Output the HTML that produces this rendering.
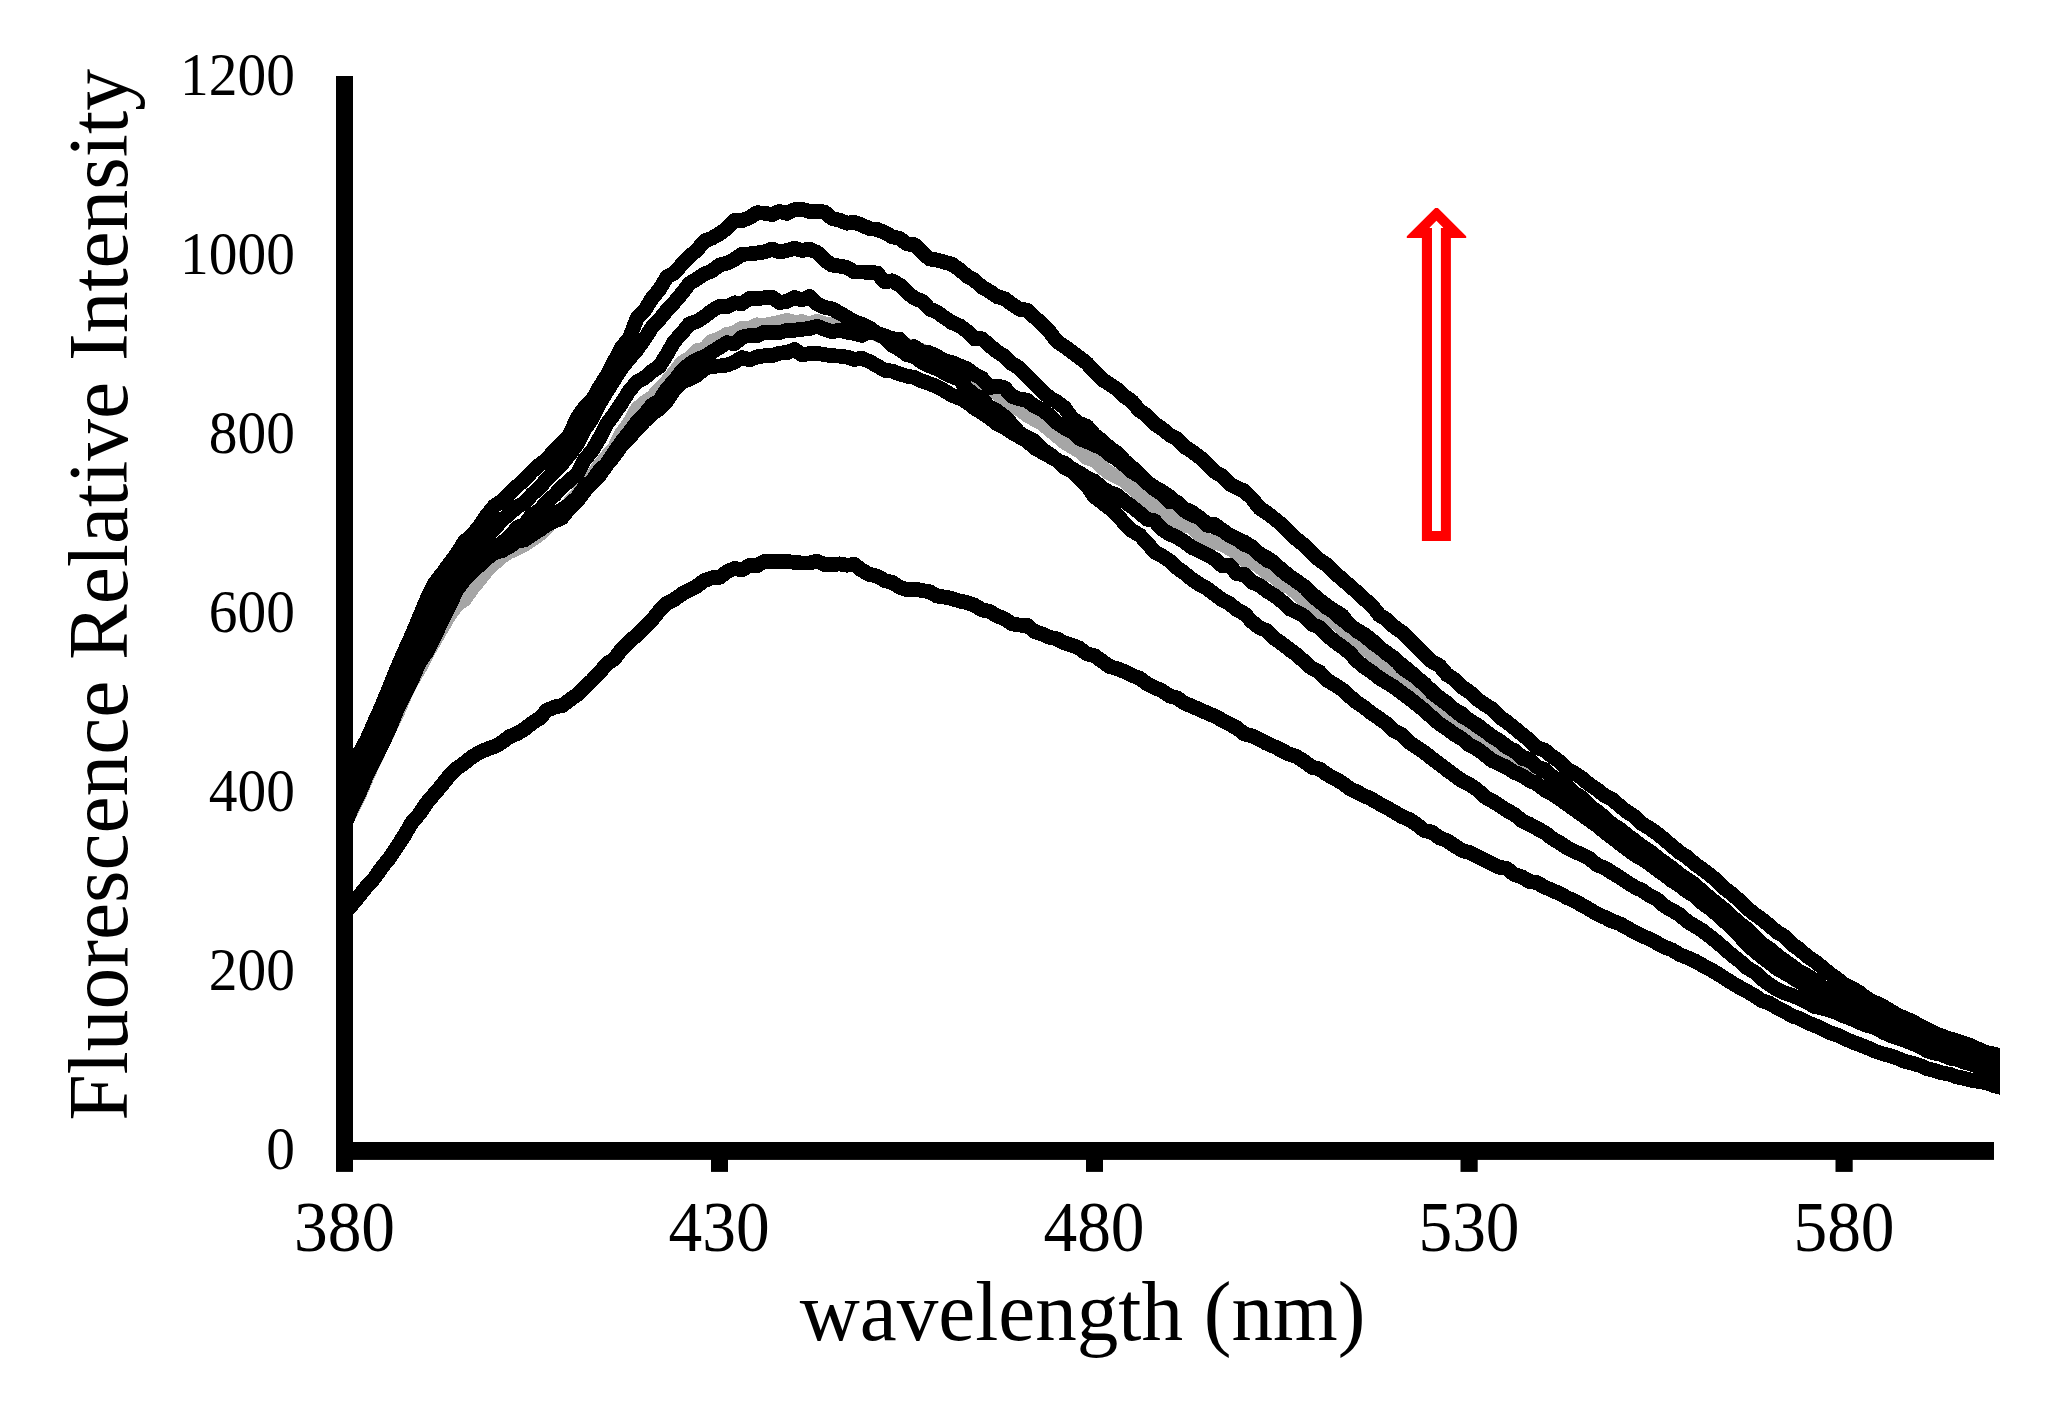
<!DOCTYPE html>
<html><head><meta charset="utf-8"><title>Fluorescence spectra</title>
<style>
html,body{margin:0;padding:0;background:#fff;}
svg{display:block;font-family:"Liberation Serif",serif;fill:#000;}
.cv path{shape-rendering:crispEdges;fill:none;stroke-width:14.8;stroke-linejoin:round;stroke-linecap:butt;}
</style></head><body>
<svg width="2052" height="1403" viewBox="0 0 2052 1403">
<rect width="2052" height="1403" fill="#fff"/>
<defs><clipPath id="cp"><rect x="336" y="60" width="1664" height="1090"/></clipPath></defs>
<g class="cv" clip-path="url(#cp)">
<path d="M344.5,824.0 L352.0,809.4 L359.5,794.1 L367.0,776.9 L374.5,760.1 L382.0,744.9 L389.5,728.9 L397.0,713.5 L404.5,695.9 L412.0,680.7 L419.5,668.0 L427.0,653.2 L434.5,640.5 L442.0,627.4 L449.5,614.7 L457.0,604.4 L464.5,599.3 L472.0,588.7 L479.5,579.7 L487.0,570.2 L494.5,563.0 L502.0,556.4 L509.5,551.6 L517.0,548.5 L524.5,544.5 L532.0,539.6 L539.5,534.2 L547.0,526.8 L554.5,517.9 L562.0,513.8 L569.5,502.9 L577.0,495.5 L584.5,484.5 L592.0,476.8 L599.5,465.8 L607.0,456.6 L614.5,448.1 L622.0,432.9 L629.5,422.9 L637.0,409.2 L644.5,402.4 L652.0,397.8 L659.5,389.4 L667.0,381.7 L674.5,372.6 L682.0,362.8 L689.5,358.2 L697.0,350.6 L704.5,349.3 L712.0,341.1 L719.5,338.8 L727.0,334.4 L734.5,333.0 L742.0,328.1 L749.5,328.3 L757.0,324.8 L764.5,325.6 L772.0,323.8 L779.5,322.4 L787.0,320.4 L794.5,322.3 L802.0,321.7 L809.5,323.7 L817.0,321.3 L824.5,323.7 L832.0,324.8 L839.5,325.7 L847.0,326.9 L854.5,328.6 L862.0,329.5 L869.5,331.0 L877.0,334.1 L884.5,337.7 L892.0,341.3 L899.5,342.8 L907.0,345.4 L914.5,347.8 L922.0,350.8 L929.5,353.5 L937.0,358.3 L944.5,363.8 L952.0,365.0 L959.5,368.8 L967.0,377.3 L974.5,379.8 L982.0,385.8 L989.5,390.6 L997.0,392.6 L1004.5,402.5 L1012.0,406.4 L1019.5,409.1 L1027.0,415.0 L1034.5,419.3 L1042.0,423.2 L1049.5,429.7 L1057.0,435.8 L1064.5,442.1 L1072.0,446.7 L1079.5,451.0 L1087.0,457.8 L1094.5,460.1 L1102.0,467.3 L1109.5,473.1 L1117.0,476.8 L1124.5,480.6 L1132.0,487.4 L1139.5,494.6 L1147.0,500.7 L1154.5,507.5 L1162.0,509.7 L1169.5,516.1 L1177.0,521.8 L1184.5,525.3 L1192.0,526.8 L1199.5,534.7 L1207.0,540.3 L1214.5,542.4 L1222.0,543.9 L1229.5,548.3 L1237.0,553.0 L1244.5,559.8 L1252.0,562.1 L1259.5,566.3 L1267.0,573.1 L1274.5,576.5 L1282.0,584.2 L1289.5,587.0 L1297.0,593.1 L1304.5,600.3 L1312.0,607.0 L1319.5,612.1 L1327.0,617.6 L1334.5,621.1 L1342.0,628.4 L1349.5,634.6 L1357.0,640.9 L1364.5,648.4 L1372.0,653.6 L1379.5,661.0 L1387.0,666.4 L1394.5,672.0 L1402.0,678.3 L1409.5,684.4 L1417.0,690.5 L1424.5,694.8 L1432.0,700.6 L1439.5,704.9 L1447.0,713.3 L1454.5,718.5 L1462.0,722.3 L1469.5,727.3 L1477.0,731.9 L1484.5,738.5 L1492.0,743.7 L1499.5,750.6 L1507.0,753.8 L1514.5,757.9 L1522.0,761.4 L1529.5,769.9 L1537.0,773.9 L1544.5,777.6 L1552.0,784.4 L1559.5,788.4 L1567.0,797.4 L1574.5,801.9 L1582.0,807.2 L1589.5,812.3 L1597.0,816.5 L1604.5,824.0 L1612.0,828.6 L1619.5,836.1 L1627.0,839.6 L1634.5,846.1 L1642.0,853.1 L1649.5,858.7 L1657.0,861.9 L1664.5,866.9 L1672.0,874.0 L1679.5,879.4 L1687.0,883.7 L1694.5,889.7 L1702.0,895.7 L1709.5,901.8 L1717.0,909.2 L1724.5,918.0 L1732.0,925.4 L1739.5,934.2 L1747.0,940.5 L1754.5,948.0 L1762.0,954.5 L1769.5,961.5 L1777.0,966.5 L1784.5,971.2 L1792.0,977.4 L1799.5,982.2 L1807.0,985.9 L1814.5,990.1 L1822.0,993.3 L1829.5,996.4 L1837.0,1000.4 L1844.5,1003.7 L1852.0,1006.9 L1859.5,1010.2 L1867.0,1013.8 L1874.5,1018.1 L1882.0,1021.6 L1889.5,1024.6 L1897.0,1028.9 L1904.5,1031.5 L1912.0,1034.8 L1919.5,1038.2 L1927.0,1040.2 L1934.5,1042.5 L1942.0,1046.7 L1949.5,1048.8 L1957.0,1052.4 L1964.5,1054.6 L1972.0,1057.5 L1979.5,1060.0 L1987.0,1061.3 L1994.5,1065.3 L2006.0,1069.2" stroke="#a6a6a6"/>
<path d="M344.5,825.3 L352.0,807.5 L359.5,792.4 L367.0,774.3 L374.5,759.9 L382.0,744.7 L389.5,728.3 L397.0,709.5 L404.5,694.3 L412.0,679.3 L419.5,662.0 L427.0,651.6 L434.5,636.1 L442.0,620.9 L449.5,605.4 L457.0,589.7 L464.5,579.5 L472.0,571.7 L479.5,565.2 L487.0,558.3 L494.5,552.7 L502.0,550.6 L509.5,546.5 L517.0,541.2 L524.5,539.9 L532.0,534.8 L539.5,530.0 L547.0,524.9 L554.5,521.2 L562.0,517.7 L569.5,508.2 L577.0,501.4 L584.5,491.2 L592.0,482.7 L599.5,475.4 L607.0,464.7 L614.5,455.6 L622.0,445.0 L629.5,437.2 L637.0,429.4 L644.5,421.0 L652.0,414.0 L659.5,408.7 L667.0,400.6 L674.5,389.5 L682.0,382.4 L689.5,378.8 L697.0,375.2 L704.5,368.5 L712.0,366.3 L719.5,366.0 L727.0,365.1 L734.5,362.1 L742.0,357.5 L749.5,359.9 L757.0,356.9 L764.5,355.7 L772.0,355.9 L779.5,353.1 L787.0,352.6 L794.5,349.6 L802.0,354.8 L809.5,353.6 L817.0,353.2 L824.5,354.7 L832.0,355.7 L839.5,356.1 L847.0,357.1 L854.5,359.4 L862.0,358.3 L869.5,361.6 L877.0,365.7 L884.5,370.2 L892.0,371.1 L899.5,373.8 L907.0,376.1 L914.5,377.4 L922.0,381.0 L929.5,383.7 L937.0,386.5 L944.5,390.8 L952.0,395.3 L959.5,398.1 L967.0,402.1 L974.5,408.1 L982.0,412.7 L989.5,417.7 L997.0,423.8 L1004.5,427.6 L1012.0,432.5 L1019.5,436.7 L1027.0,441.0 L1034.5,447.7 L1042.0,452.1 L1049.5,456.2 L1057.0,460.4 L1064.5,463.2 L1072.0,468.9 L1079.5,473.0 L1087.0,478.0 L1094.5,481.2 L1102.0,487.9 L1109.5,492.6 L1117.0,495.1 L1124.5,501.4 L1132.0,506.8 L1139.5,512.8 L1147.0,519.1 L1154.5,520.8 L1162.0,529.3 L1169.5,533.9 L1177.0,537.3 L1184.5,541.8 L1192.0,547.6 L1199.5,550.8 L1207.0,554.7 L1214.5,558.9 L1222.0,565.7 L1229.5,565.3 L1237.0,573.9 L1244.5,574.5 L1252.0,582.2 L1259.5,585.3 L1267.0,591.0 L1274.5,595.6 L1282.0,601.4 L1289.5,608.8 L1297.0,612.2 L1304.5,616.3 L1312.0,624.1 L1319.5,627.6 L1327.0,635.1 L1334.5,641.5 L1342.0,646.7 L1349.5,652.6 L1357.0,660.9 L1364.5,667.1 L1372.0,672.3 L1379.5,678.1 L1387.0,682.7 L1394.5,687.3 L1402.0,693.1 L1409.5,698.4 L1417.0,704.5 L1424.5,710.5 L1432.0,717.4 L1439.5,723.9 L1447.0,728.7 L1454.5,734.5 L1462.0,738.7 L1469.5,745.1 L1477.0,748.9 L1484.5,754.4 L1492.0,760.6 L1499.5,763.8 L1507.0,767.5 L1514.5,772.4 L1522.0,775.5 L1529.5,780.4 L1537.0,783.9 L1544.5,789.8 L1552.0,793.7 L1559.5,798.8 L1567.0,804.1 L1574.5,809.4 L1582.0,814.9 L1589.5,820.2 L1597.0,825.6 L1604.5,831.8 L1612.0,837.4 L1619.5,843.4 L1627.0,849.1 L1634.5,854.6 L1642.0,858.8 L1649.5,863.8 L1657.0,869.6 L1664.5,874.7 L1672.0,880.7 L1679.5,885.3 L1687.0,891.4 L1694.5,895.7 L1702.0,902.8 L1709.5,908.2 L1717.0,914.4 L1724.5,921.1 L1732.0,928.3 L1739.5,935.8 L1747.0,944.3 L1754.5,950.8 L1762.0,957.1 L1769.5,962.6 L1777.0,968.6 L1784.5,972.7 L1792.0,977.0 L1799.5,981.9 L1807.0,986.8 L1814.5,992.2 L1822.0,993.8 L1829.5,998.0 L1837.0,1001.7 L1844.5,1005.4 L1852.0,1008.9 L1859.5,1012.8 L1867.0,1015.9 L1874.5,1019.9 L1882.0,1022.3 L1889.5,1026.0 L1897.0,1029.1 L1904.5,1032.4 L1912.0,1035.9 L1919.5,1038.2 L1927.0,1041.6 L1934.5,1044.2 L1942.0,1047.4 L1949.5,1050.3 L1957.0,1052.6 L1964.5,1055.8 L1972.0,1057.6 L1979.5,1061.5 L1987.0,1062.8 L1994.5,1066.2 L2006.0,1070.2" stroke="#000"/>
<path d="M344.5,821.6 L352.0,806.0 L359.5,788.3 L367.0,772.2 L374.5,757.1 L382.0,741.8 L389.5,723.9 L397.0,706.1 L404.5,690.6 L412.0,675.8 L419.5,661.7 L427.0,646.0 L434.5,631.0 L442.0,616.3 L449.5,601.2 L457.0,586.4 L464.5,576.6 L472.0,568.3 L479.5,563.2 L487.0,555.5 L494.5,551.6 L502.0,544.5 L509.5,542.1 L517.0,537.0 L524.5,531.5 L532.0,527.1 L539.5,523.0 L547.0,516.5 L554.5,513.7 L562.0,509.8 L569.5,504.3 L577.0,497.8 L584.5,487.0 L592.0,480.9 L599.5,470.8 L607.0,463.6 L614.5,452.0 L622.0,441.4 L629.5,432.2 L637.0,422.1 L644.5,414.5 L652.0,405.1 L659.5,400.7 L667.0,388.6 L674.5,380.8 L682.0,370.5 L689.5,364.2 L697.0,359.5 L704.5,356.7 L712.0,352.0 L719.5,347.3 L727.0,342.7 L734.5,343.7 L742.0,337.2 L749.5,335.4 L757.0,335.7 L764.5,332.2 L772.0,332.8 L779.5,332.7 L787.0,330.2 L794.5,330.2 L802.0,329.3 L809.5,328.5 L817.0,326.3 L824.5,329.1 L832.0,331.8 L839.5,330.1 L847.0,332.1 L854.5,333.5 L862.0,335.4 L869.5,331.8 L877.0,333.5 L884.5,335.8 L892.0,338.7 L899.5,339.2 L907.0,347.4 L914.5,346.7 L922.0,352.1 L929.5,352.8 L937.0,356.3 L944.5,360.8 L952.0,362.6 L959.5,365.7 L967.0,368.8 L974.5,374.4 L982.0,378.3 L989.5,387.6 L997.0,386.1 L1004.5,387.7 L1012.0,396.4 L1019.5,399.0 L1027.0,400.2 L1034.5,406.3 L1042.0,409.4 L1049.5,415.5 L1057.0,422.7 L1064.5,427.9 L1072.0,431.5 L1079.5,438.6 L1087.0,441.6 L1094.5,445.0 L1102.0,447.9 L1109.5,454.5 L1117.0,459.2 L1124.5,465.1 L1132.0,471.9 L1139.5,475.9 L1147.0,482.8 L1154.5,489.2 L1162.0,494.2 L1169.5,502.0 L1177.0,502.1 L1184.5,509.0 L1192.0,512.1 L1199.5,517.9 L1207.0,525.2 L1214.5,524.3 L1222.0,530.1 L1229.5,535.5 L1237.0,539.1 L1244.5,544.7 L1252.0,546.5 L1259.5,554.6 L1267.0,557.7 L1274.5,563.0 L1282.0,570.8 L1289.5,576.6 L1297.0,581.2 L1304.5,587.1 L1312.0,593.8 L1319.5,600.1 L1327.0,605.9 L1334.5,610.8 L1342.0,615.4 L1349.5,625.3 L1357.0,630.1 L1364.5,634.7 L1372.0,640.4 L1379.5,647.4 L1387.0,653.7 L1394.5,658.0 L1402.0,667.6 L1409.5,672.7 L1417.0,678.0 L1424.5,684.8 L1432.0,690.9 L1439.5,697.8 L1447.0,703.0 L1454.5,710.1 L1462.0,716.2 L1469.5,720.2 L1477.0,725.7 L1484.5,730.6 L1492.0,736.4 L1499.5,740.9 L1507.0,746.5 L1514.5,751.6 L1522.0,756.6 L1529.5,760.0 L1537.0,766.9 L1544.5,770.8 L1552.0,776.2 L1559.5,781.3 L1567.0,785.8 L1574.5,793.5 L1582.0,797.7 L1589.5,806.1 L1597.0,811.3 L1604.5,818.5 L1612.0,823.8 L1619.5,829.8 L1627.0,836.1 L1634.5,840.7 L1642.0,847.5 L1649.5,851.8 L1657.0,857.6 L1664.5,862.4 L1672.0,868.8 L1679.5,874.4 L1687.0,879.2 L1694.5,884.4 L1702.0,891.2 L1709.5,897.6 L1717.0,903.6 L1724.5,909.7 L1732.0,916.6 L1739.5,923.6 L1747.0,928.9 L1754.5,936.7 L1762.0,944.4 L1769.5,948.8 L1777.0,955.1 L1784.5,961.7 L1792.0,966.3 L1799.5,971.5 L1807.0,975.8 L1814.5,979.9 L1822.0,986.8 L1829.5,990.1 L1837.0,994.4 L1844.5,999.4 L1852.0,1002.9 L1859.5,1006.4 L1867.0,1009.5 L1874.5,1013.7 L1882.0,1017.2 L1889.5,1020.3 L1897.0,1023.5 L1904.5,1026.7 L1912.0,1030.3 L1919.5,1033.2 L1927.0,1036.8 L1934.5,1040.1 L1942.0,1042.7 L1949.5,1045.4 L1957.0,1049.0 L1964.5,1051.3 L1972.0,1053.0 L1979.5,1056.1 L1987.0,1059.3 L1994.5,1061.6 L2006.0,1066.3" stroke="#000"/>
<path d="M344.5,817.6 L352.0,801.0 L359.5,787.4 L367.0,770.0 L374.5,753.7 L382.0,737.2 L389.5,719.3 L397.0,702.6 L404.5,687.9 L412.0,671.3 L419.5,657.3 L427.0,641.3 L434.5,624.9 L442.0,610.8 L449.5,596.3 L457.0,581.5 L464.5,573.3 L472.0,564.4 L479.5,559.4 L487.0,551.7 L494.5,547.5 L502.0,543.0 L509.5,536.9 L517.0,527.9 L524.5,524.4 L532.0,514.9 L539.5,510.5 L547.0,501.8 L554.5,495.1 L562.0,487.2 L569.5,480.4 L577.0,474.3 L584.5,459.7 L592.0,450.9 L599.5,438.2 L607.0,423.7 L614.5,413.6 L622.0,402.5 L629.5,390.5 L637.0,382.0 L644.5,377.8 L652.0,371.4 L659.5,366.4 L667.0,354.1 L674.5,341.2 L682.0,333.2 L689.5,323.8 L697.0,321.5 L704.5,316.6 L712.0,310.6 L719.5,306.4 L727.0,306.7 L734.5,302.8 L742.0,303.6 L749.5,298.6 L757.0,298.7 L764.5,297.8 L772.0,297.0 L779.5,302.5 L787.0,301.3 L794.5,297.6 L802.0,299.9 L809.5,296.5 L817.0,303.9 L824.5,307.2 L832.0,308.9 L839.5,312.8 L847.0,317.3 L854.5,321.6 L862.0,324.4 L869.5,327.9 L877.0,333.3 L884.5,337.8 L892.0,345.0 L899.5,349.3 L907.0,354.7 L914.5,356.5 L922.0,362.4 L929.5,365.8 L937.0,368.8 L944.5,372.8 L952.0,376.5 L959.5,379.5 L967.0,388.8 L974.5,394.9 L982.0,399.2 L989.5,407.1 L997.0,411.0 L1004.5,416.7 L1012.0,424.5 L1019.5,433.2 L1027.0,437.1 L1034.5,441.1 L1042.0,449.4 L1049.5,454.2 L1057.0,459.9 L1064.5,467.7 L1072.0,471.4 L1079.5,478.4 L1087.0,486.0 L1094.5,496.6 L1102.0,502.3 L1109.5,508.1 L1117.0,514.8 L1124.5,523.3 L1132.0,530.8 L1139.5,534.9 L1147.0,542.7 L1154.5,551.8 L1162.0,555.9 L1169.5,560.9 L1177.0,567.7 L1184.5,573.2 L1192.0,579.3 L1199.5,584.3 L1207.0,588.5 L1214.5,594.1 L1222.0,599.7 L1229.5,603.6 L1237.0,609.7 L1244.5,613.8 L1252.0,621.7 L1259.5,627.7 L1267.0,630.7 L1274.5,638.5 L1282.0,643.6 L1289.5,649.5 L1297.0,655.1 L1304.5,661.7 L1312.0,668.4 L1319.5,671.9 L1327.0,680.2 L1334.5,684.6 L1342.0,689.4 L1349.5,696.2 L1357.0,702.6 L1364.5,707.6 L1372.0,713.6 L1379.5,718.6 L1387.0,724.0 L1394.5,731.2 L1402.0,734.9 L1409.5,742.4 L1417.0,747.5 L1424.5,752.6 L1432.0,758.4 L1439.5,764.0 L1447.0,769.9 L1454.5,775.4 L1462.0,780.8 L1469.5,784.5 L1477.0,789.5 L1484.5,796.7 L1492.0,800.7 L1499.5,805.5 L1507.0,810.5 L1514.5,814.3 L1522.0,821.0 L1529.5,824.2 L1537.0,828.5 L1544.5,832.3 L1552.0,838.4 L1559.5,842.7 L1567.0,847.7 L1574.5,851.6 L1582.0,854.6 L1589.5,858.6 L1597.0,865.0 L1604.5,867.8 L1612.0,872.6 L1619.5,877.1 L1627.0,882.2 L1634.5,886.9 L1642.0,890.4 L1649.5,895.5 L1657.0,899.5 L1664.5,906.0 L1672.0,910.4 L1679.5,914.4 L1687.0,921.3 L1694.5,925.8 L1702.0,930.3 L1709.5,936.2 L1717.0,942.0 L1724.5,948.7 L1732.0,955.1 L1739.5,961.0 L1747.0,967.8 L1754.5,972.0 L1762.0,979.0 L1769.5,984.6 L1777.0,989.3 L1784.5,993.0 L1792.0,995.4 L1799.5,998.3 L1807.0,1002.1 L1814.5,1006.5 L1822.0,1008.1 L1829.5,1010.2 L1837.0,1012.5 L1844.5,1016.3 L1852.0,1018.9 L1859.5,1022.5 L1867.0,1025.4 L1874.5,1027.2 L1882.0,1031.5 L1889.5,1035.2 L1897.0,1037.6 L1904.5,1040.3 L1912.0,1043.3 L1919.5,1046.2 L1927.0,1050.8 L1934.5,1053.1 L1942.0,1054.6 L1949.5,1058.1 L1957.0,1059.4 L1964.5,1062.1 L1972.0,1064.4 L1979.5,1067.1 L1987.0,1069.9 L1994.5,1073.0 L2006.0,1075.8" stroke="#000"/>
<path d="M344.5,802.0 L352.0,783.2 L359.5,768.9 L367.0,753.3 L374.5,737.0 L382.0,720.2 L389.5,702.5 L397.0,685.6 L404.5,669.4 L412.0,653.8 L419.5,637.2 L427.0,622.6 L434.5,607.0 L442.0,593.0 L449.5,580.0 L457.0,567.8 L464.5,557.2 L472.0,550.2 L479.5,542.3 L487.0,535.6 L494.5,528.7 L502.0,519.9 L509.5,513.9 L517.0,506.8 L524.5,502.7 L532.0,494.4 L539.5,487.6 L547.0,479.0 L554.5,471.2 L562.0,464.0 L569.5,454.7 L577.0,444.2 L584.5,429.5 L592.0,418.8 L599.5,403.7 L607.0,391.2 L614.5,379.2 L622.0,367.4 L629.5,358.4 L637.0,349.7 L644.5,339.1 L652.0,327.4 L659.5,319.4 L667.0,310.1 L674.5,302.1 L682.0,293.3 L689.5,283.5 L697.0,278.9 L704.5,273.9 L712.0,270.9 L719.5,265.0 L727.0,263.2 L734.5,259.4 L742.0,254.3 L749.5,253.9 L757.0,253.0 L764.5,252.0 L772.0,249.0 L779.5,252.1 L787.0,250.5 L794.5,248.1 L802.0,250.5 L809.5,249.0 L817.0,252.4 L824.5,259.9 L832.0,265.1 L839.5,266.0 L847.0,267.5 L854.5,272.1 L862.0,272.0 L869.5,272.4 L877.0,273.0 L884.5,281.6 L892.0,280.8 L899.5,284.9 L907.0,292.4 L914.5,298.1 L922.0,301.3 L929.5,309.0 L937.0,312.1 L944.5,317.5 L952.0,322.6 L959.5,325.7 L967.0,331.3 L974.5,338.9 L982.0,338.8 L989.5,345.4 L997.0,351.6 L1004.5,356.3 L1012.0,363.7 L1019.5,368.0 L1027.0,376.4 L1034.5,383.5 L1042.0,391.4 L1049.5,397.6 L1057.0,401.9 L1064.5,407.6 L1072.0,418.2 L1079.5,423.5 L1087.0,426.4 L1094.5,435.1 L1102.0,440.9 L1109.5,447.7 L1117.0,452.8 L1124.5,461.0 L1132.0,467.5 L1139.5,474.3 L1147.0,482.3 L1154.5,487.4 L1162.0,491.5 L1169.5,496.6 L1177.0,503.5 L1184.5,510.6 L1192.0,515.0 L1199.5,517.5 L1207.0,523.8 L1214.5,527.1 L1222.0,529.9 L1229.5,535.3 L1237.0,538.9 L1244.5,542.2 L1252.0,547.8 L1259.5,553.6 L1267.0,560.3 L1274.5,563.1 L1282.0,570.3 L1289.5,576.0 L1297.0,581.9 L1304.5,586.6 L1312.0,595.4 L1319.5,601.5 L1327.0,607.7 L1334.5,612.4 L1342.0,619.5 L1349.5,624.4 L1357.0,631.0 L1364.5,635.6 L1372.0,642.2 L1379.5,647.7 L1387.0,653.0 L1394.5,659.7 L1402.0,665.0 L1409.5,671.1 L1417.0,677.9 L1424.5,683.8 L1432.0,692.7 L1439.5,698.5 L1447.0,703.9 L1454.5,709.6 L1462.0,713.9 L1469.5,720.7 L1477.0,724.7 L1484.5,730.8 L1492.0,736.1 L1499.5,741.2 L1507.0,747.3 L1514.5,750.6 L1522.0,758.3 L1529.5,760.5 L1537.0,766.7 L1544.5,769.6 L1552.0,777.1 L1559.5,780.7 L1567.0,787.6 L1574.5,793.2 L1582.0,799.9 L1589.5,805.7 L1597.0,811.5 L1604.5,817.1 L1612.0,824.8 L1619.5,828.8 L1627.0,835.0 L1634.5,840.4 L1642.0,846.4 L1649.5,851.1 L1657.0,857.1 L1664.5,863.2 L1672.0,867.9 L1679.5,874.3 L1687.0,879.1 L1694.5,886.3 L1702.0,891.1 L1709.5,898.5 L1717.0,904.0 L1724.5,910.2 L1732.0,917.7 L1739.5,924.6 L1747.0,931.5 L1754.5,938.0 L1762.0,944.1 L1769.5,948.8 L1777.0,955.8 L1784.5,960.6 L1792.0,966.1 L1799.5,971.7 L1807.0,975.5 L1814.5,981.5 L1822.0,986.8 L1829.5,990.2 L1837.0,994.0 L1844.5,999.2 L1852.0,1002.6 L1859.5,1006.9 L1867.0,1010.8 L1874.5,1012.9 L1882.0,1017.4 L1889.5,1019.8 L1897.0,1023.6 L1904.5,1027.5 L1912.0,1029.7 L1919.5,1033.1 L1927.0,1036.3 L1934.5,1039.8 L1942.0,1042.7 L1949.5,1045.6 L1957.0,1048.0 L1964.5,1050.6 L1972.0,1053.9 L1979.5,1056.0 L1987.0,1058.8 L1994.5,1062.3 L2006.0,1066.3" stroke="#000"/>
<path d="M344.5,782.4 L352.0,765.0 L359.5,752.9 L367.0,739.4 L374.5,722.1 L382.0,705.5 L389.5,687.1 L397.0,668.6 L404.5,651.3 L412.0,634.8 L419.5,616.8 L427.0,598.9 L434.5,583.4 L442.0,574.0 L449.5,563.6 L457.0,553.6 L464.5,541.5 L472.0,535.4 L479.5,526.2 L487.0,515.1 L494.5,505.8 L502.0,501.2 L509.5,493.3 L517.0,486.4 L524.5,479.3 L532.0,471.5 L539.5,464.9 L547.0,459.4 L554.5,450.0 L562.0,443.0 L569.5,435.0 L577.0,418.3 L584.5,407.5 L592.0,400.4 L599.5,387.1 L607.0,375.1 L614.5,361.0 L622.0,347.0 L629.5,337.9 L637.0,318.4 L644.5,310.7 L652.0,298.4 L659.5,289.5 L667.0,276.7 L674.5,272.9 L682.0,264.2 L689.5,256.4 L697.0,250.1 L704.5,241.0 L712.0,238.1 L719.5,233.7 L727.0,228.4 L734.5,220.5 L742.0,220.6 L749.5,217.6 L757.0,212.7 L764.5,213.2 L772.0,214.6 L779.5,211.4 L787.0,213.4 L794.5,209.7 L802.0,209.2 L809.5,211.5 L817.0,211.1 L824.5,212.1 L832.0,218.4 L839.5,220.2 L847.0,223.2 L854.5,222.4 L862.0,225.1 L869.5,228.7 L877.0,229.3 L884.5,232.5 L892.0,236.6 L899.5,238.5 L907.0,244.0 L914.5,244.8 L922.0,252.0 L929.5,258.9 L937.0,260.0 L944.5,262.2 L952.0,264.3 L959.5,269.6 L967.0,276.0 L974.5,280.2 L982.0,287.3 L989.5,291.3 L997.0,296.6 L1004.5,298.7 L1012.0,304.2 L1019.5,309.2 L1027.0,310.0 L1034.5,317.1 L1042.0,324.1 L1049.5,331.8 L1057.0,341.5 L1064.5,346.4 L1072.0,352.0 L1079.5,357.5 L1087.0,363.4 L1094.5,371.6 L1102.0,379.3 L1109.5,384.2 L1117.0,389.1 L1124.5,396.3 L1132.0,401.4 L1139.5,410.6 L1147.0,415.5 L1154.5,423.7 L1162.0,428.7 L1169.5,434.8 L1177.0,438.6 L1184.5,446.8 L1192.0,451.4 L1199.5,457.0 L1207.0,463.8 L1214.5,471.6 L1222.0,475.9 L1229.5,483.8 L1237.0,487.9 L1244.5,491.1 L1252.0,498.5 L1259.5,508.1 L1267.0,512.9 L1274.5,518.8 L1282.0,524.8 L1289.5,532.5 L1297.0,539.6 L1304.5,545.4 L1312.0,552.7 L1319.5,560.0 L1327.0,565.0 L1334.5,572.8 L1342.0,578.9 L1349.5,585.7 L1357.0,592.1 L1364.5,599.2 L1372.0,605.6 L1379.5,615.3 L1387.0,619.7 L1394.5,627.0 L1402.0,632.3 L1409.5,639.9 L1417.0,646.9 L1424.5,654.8 L1432.0,661.6 L1439.5,665.7 L1447.0,674.7 L1454.5,679.4 L1462.0,687.0 L1469.5,692.0 L1477.0,699.0 L1484.5,704.3 L1492.0,709.0 L1499.5,717.0 L1507.0,722.0 L1514.5,728.1 L1522.0,734.3 L1529.5,740.3 L1537.0,747.7 L1544.5,750.1 L1552.0,756.3 L1559.5,761.5 L1567.0,769.1 L1574.5,773.1 L1582.0,778.2 L1589.5,784.6 L1597.0,789.6 L1604.5,795.4 L1612.0,799.0 L1619.5,805.8 L1627.0,811.8 L1634.5,816.4 L1642.0,823.7 L1649.5,828.2 L1657.0,833.4 L1664.5,839.5 L1672.0,846.0 L1679.5,852.3 L1687.0,856.9 L1694.5,863.7 L1702.0,869.0 L1709.5,874.6 L1717.0,880.8 L1724.5,888.4 L1732.0,893.9 L1739.5,900.7 L1747.0,908.2 L1754.5,914.1 L1762.0,919.4 L1769.5,925.6 L1777.0,932.0 L1784.5,936.4 L1792.0,944.3 L1799.5,949.3 L1807.0,956.2 L1814.5,961.1 L1822.0,967.1 L1829.5,973.5 L1837.0,978.7 L1844.5,984.6 L1852.0,988.1 L1859.5,992.7 L1867.0,998.5 L1874.5,1002.4 L1882.0,1005.6 L1889.5,1010.2 L1897.0,1014.7 L1904.5,1018.1 L1912.0,1021.2 L1919.5,1025.7 L1927.0,1029.3 L1934.5,1033.1 L1942.0,1036.1 L1949.5,1038.8 L1957.0,1040.8 L1964.5,1043.4 L1972.0,1046.2 L1979.5,1049.7 L1987.0,1052.7 L1994.5,1054.1 L2006.0,1059.4" stroke="#000"/>
<path d="M344.5,912.2 L352.0,904.6 L359.5,895.6 L367.0,886.2 L374.5,878.0 L382.0,867.2 L389.5,858.0 L397.0,846.9 L404.5,835.2 L412.0,822.3 L419.5,813.8 L427.0,802.6 L434.5,793.8 L442.0,785.0 L449.5,775.4 L457.0,768.3 L464.5,763.0 L472.0,756.9 L479.5,752.5 L487.0,749.1 L494.5,746.6 L502.0,742.4 L509.5,736.6 L517.0,733.6 L524.5,729.1 L532.0,723.1 L539.5,718.4 L547.0,710.3 L554.5,707.0 L562.0,705.7 L569.5,700.1 L577.0,694.8 L584.5,687.7 L592.0,680.5 L599.5,672.7 L607.0,663.6 L614.5,658.9 L622.0,648.6 L629.5,641.4 L637.0,634.9 L644.5,627.9 L652.0,620.0 L659.5,610.7 L667.0,603.3 L674.5,599.5 L682.0,593.9 L689.5,590.2 L697.0,586.0 L704.5,580.5 L712.0,577.8 L719.5,577.4 L727.0,571.7 L734.5,568.4 L742.0,569.9 L749.5,565.4 L757.0,565.7 L764.5,561.4 L772.0,561.4 L779.5,561.9 L787.0,561.5 L794.5,562.3 L802.0,563.0 L809.5,563.1 L817.0,561.1 L824.5,564.6 L832.0,564.6 L839.5,563.9 L847.0,565.2 L854.5,564.6 L862.0,570.4 L869.5,574.4 L877.0,576.1 L884.5,580.4 L892.0,582.4 L899.5,587.1 L907.0,589.9 L914.5,589.0 L922.0,590.5 L929.5,591.7 L937.0,596.1 L944.5,597.0 L952.0,598.6 L959.5,601.0 L967.0,602.6 L974.5,605.2 L982.0,609.9 L989.5,611.5 L997.0,615.8 L1004.5,618.9 L1012.0,623.9 L1019.5,625.1 L1027.0,625.3 L1034.5,631.4 L1042.0,633.9 L1049.5,637.2 L1057.0,638.9 L1064.5,643.0 L1072.0,645.2 L1079.5,648.2 L1087.0,654.0 L1094.5,655.6 L1102.0,661.1 L1109.5,666.4 L1117.0,668.7 L1124.5,671.5 L1132.0,675.4 L1139.5,678.2 L1147.0,683.7 L1154.5,687.4 L1162.0,690.9 L1169.5,695.9 L1177.0,697.9 L1184.5,703.2 L1192.0,706.2 L1199.5,709.6 L1207.0,712.9 L1214.5,716.0 L1222.0,720.1 L1229.5,724.2 L1237.0,728.0 L1244.5,734.1 L1252.0,735.8 L1259.5,739.6 L1267.0,743.5 L1274.5,746.7 L1282.0,750.5 L1289.5,754.3 L1297.0,756.8 L1304.5,761.6 L1312.0,767.3 L1319.5,768.9 L1327.0,774.4 L1334.5,778.5 L1342.0,782.7 L1349.5,788.3 L1357.0,792.0 L1364.5,795.8 L1372.0,799.4 L1379.5,803.8 L1387.0,807.7 L1394.5,812.1 L1402.0,816.6 L1409.5,819.6 L1417.0,824.7 L1424.5,830.7 L1432.0,832.1 L1439.5,837.9 L1447.0,840.6 L1454.5,845.7 L1462.0,850.4 L1469.5,852.6 L1477.0,856.2 L1484.5,859.9 L1492.0,863.8 L1499.5,867.3 L1507.0,868.6 L1514.5,874.7 L1522.0,877.0 L1529.5,881.5 L1537.0,882.7 L1544.5,887.0 L1552.0,890.2 L1559.5,893.5 L1567.0,897.6 L1574.5,901.0 L1582.0,905.1 L1589.5,909.4 L1597.0,913.9 L1604.5,917.2 L1612.0,921.0 L1619.5,923.7 L1627.0,927.6 L1634.5,932.2 L1642.0,935.8 L1649.5,939.0 L1657.0,943.0 L1664.5,947.0 L1672.0,949.9 L1679.5,954.5 L1687.0,957.5 L1694.5,960.7 L1702.0,965.0 L1709.5,969.0 L1717.0,973.3 L1724.5,978.2 L1732.0,982.9 L1739.5,987.3 L1747.0,991.3 L1754.5,995.6 L1762.0,1000.8 L1769.5,1003.2 L1777.0,1007.8 L1784.5,1011.4 L1792.0,1015.9 L1799.5,1018.3 L1807.0,1022.4 L1814.5,1025.3 L1822.0,1028.7 L1829.5,1032.4 L1837.0,1035.0 L1844.5,1038.6 L1852.0,1041.8 L1859.5,1044.6 L1867.0,1047.5 L1874.5,1051.0 L1882.0,1053.5 L1889.5,1055.6 L1897.0,1058.1 L1904.5,1061.2 L1912.0,1063.2 L1919.5,1065.3 L1927.0,1068.6 L1934.5,1070.5 L1942.0,1072.9 L1949.5,1074.2 L1957.0,1077.0 L1964.5,1078.4 L1972.0,1080.4 L1979.5,1081.6 L1987.0,1082.9 L1994.5,1085.9 L2006.0,1088.4" stroke="#000"/>
</g>
<!-- axes -->
<rect x="336" y="76" width="17" height="1095.9" fill="#000"/>
<rect x="336" y="1142" width="1658" height="17.9" fill="#000"/>
<rect x="711" y="1150" width="17" height="21.9" fill="#000"/>
<rect x="1086" y="1150" width="17" height="21.9" fill="#000"/>
<rect x="1460.5" y="1150" width="17.2" height="21.9" fill="#000"/>
<rect x="1835.5" y="1150" width="17.2" height="21.9" fill="#000"/>
<!-- arrow -->
<polygon points="1435.2,207.9 1437.9,207.9 1466.2,236.2 1466.2,238.1 1450.9,238.1 1450.9,540.9 1421.9,540.9 1421.9,238.1 1406.8,238.1 1406.8,236.2" fill="#ff0000"/>
<polygon points="1436.4,220.8 1443.1,227.5 1443.1,228.1 1440.9,228.1 1440.9,530.9 1432,530.9 1432,228.1 1429.7,228.1 1429.7,227.5" fill="#fff"/>
<!-- tick labels -->
<text transform="translate(294.9,94.8) scale(0.985,1.05)" text-anchor="end" font-size="58.3">1200</text>
<text transform="translate(294.9,273.8) scale(0.985,1.05)" text-anchor="end" font-size="58.3">1000</text>
<text transform="translate(294.9,452.8) scale(0.985,1.05)" text-anchor="end" font-size="58.3">800</text>
<text transform="translate(294.9,631.8) scale(0.985,1.05)" text-anchor="end" font-size="58.3">600</text>
<text transform="translate(294.9,810.8) scale(0.985,1.05)" text-anchor="end" font-size="58.3">400</text>
<text transform="translate(294.9,989.8) scale(0.985,1.05)" text-anchor="end" font-size="58.3">200</text>
<text transform="translate(294.9,1168.8) scale(0.985,1.05)" text-anchor="end" font-size="58.3">0</text>
<text transform="translate(344.5,1250.5) scale(0.995,1.06)" text-anchor="middle" font-size="67.8">380</text>
<text transform="translate(719.2,1250.5) scale(0.995,1.06)" text-anchor="middle" font-size="67.8">430</text>
<text transform="translate(1094,1250.5) scale(0.995,1.06)" text-anchor="middle" font-size="67.8">480</text>
<text transform="translate(1469,1250.5) scale(0.995,1.06)" text-anchor="middle" font-size="67.8">530</text>
<text transform="translate(1844,1250.5) scale(0.995,1.06)" text-anchor="middle" font-size="67.8">580</text>

<text id="xt" transform="translate(1082.6,1339.8) scale(0.99,1)" text-anchor="middle" font-size="84">wavelength (nm)</text>
<text id="yt" transform="translate(127.4,595) rotate(-90) scale(0.9933,1)" text-anchor="middle" font-size="84">Fluorescence Relative Intensity</text>
</svg>
</body></html>
